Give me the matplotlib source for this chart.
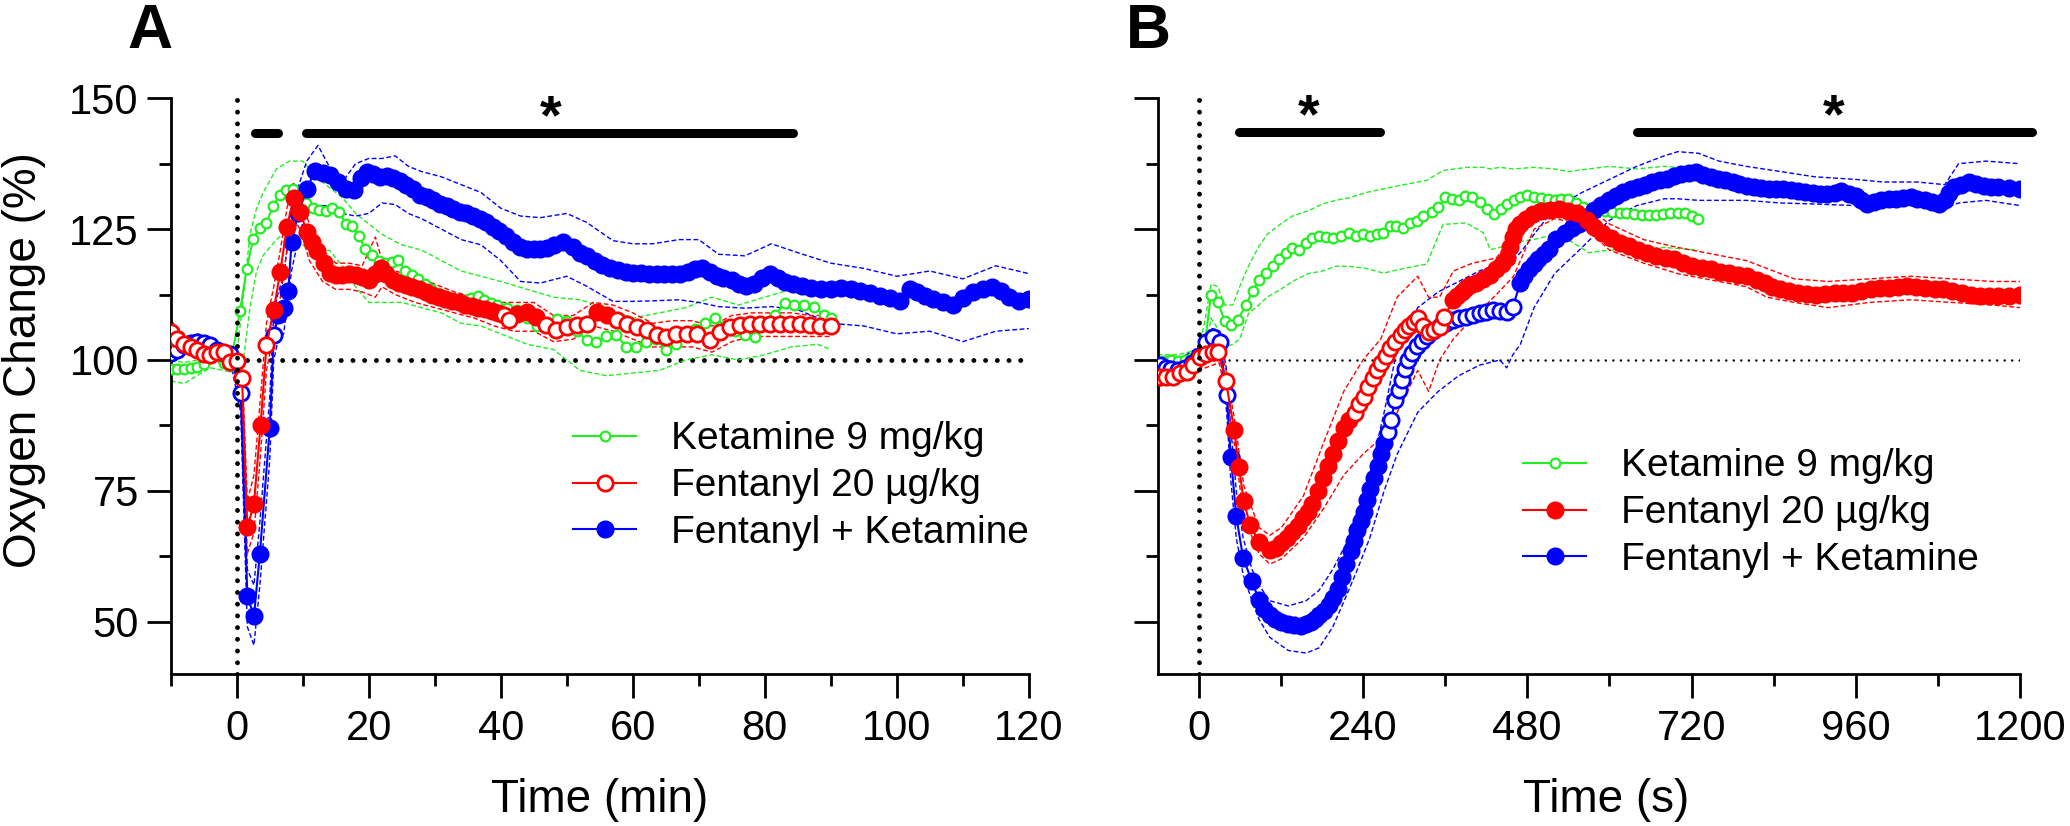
import numpy as np
import matplotlib.pyplot as plt
from matplotlib.lines import Line2D

plt.rcParams['font.family'] = ['Liberation Sans', 'DejaVu Sans']

GREEN, RED, BLUE = '#22ee22', '#ff0000', '#0000ff'
labels = ['Ketamine 9 mg/kg', 'Fentanyl 20 \u00b5g/kg', 'Fentanyl + Ketamine']

# ---------------- panel A (minutes) ----------------
green_a_t = [-10, -9, -8, -7, -6, -5, -4, -3, -2, -1, 0.5, 1.5, 2.5, 3.5, 4.5, 5.5, 6.5, 7.5, 8.5, 9.5,
             10.5, 11.5, 12.5, 13.5, 14.5, 15.5, 16.5, 17.5, 18.5, 19.5, 20.5, 21.5, 22.5, 23.5, 24.5,
             25.5, 26.5, 27.5, 28.5, 29.5, 30.5, 31.5, 32.5, 33.5, 34.5, 35.5, 36.5, 37.5, 38.5, 39.5,
             41, 42.5, 44, 45.5, 47, 48.5, 50, 51.5, 53, 54.5, 56, 57.5, 59, 60.5, 62, 63.5, 65, 66.5,
             68, 69.5, 71, 72.5, 74, 75.5, 77, 78.5, 80, 81.5, 83, 84.5, 86, 87.5, 89, 90]
green_a_v = [98.3, 98.2, 98.3, 98.5, 98.6, 99.2, 100.3, 100.8, 99.5, 98.8,
             109.4, 117.4, 123.2, 125.3, 126.2, 129.5, 131.5, 132.4, 132.6, 131.0,
             130.0, 129.0, 128.7, 128.4, 129.0, 128.3, 126.0, 125.6, 123.6, 121.2,
             120.0, 119.0, 118.5, 118.8, 119.1, 117.0, 116.2, 115.5, 114.5, 113.5,
             112.8, 112.3, 111.8, 111.5, 111.4, 111.8, 112.3, 111.5, 110.8, 110.5,
             110.0, 109.5, 108.0, 106.5, 107.0, 107.8, 107.4, 105.5, 103.8, 103.4,
             104.5, 104.8, 102.5, 102.4, 103.5, 104.0, 102.0, 103.0, 104.5, 106.0,
             107.0, 108.0, 106.5, 105.5, 104.8, 104.3, 106.5, 108.5, 110.8, 110.6,
             110.5, 110.2, 108.5, 108.0]
ga_ci_t = [-10, -8, -6, -4, -2, 0, 1, 2, 3, 4, 6, 8, 10, 12, 14, 16, 18, 20, 22, 25, 28, 31, 34, 37,
           40, 44, 48, 52, 56, 60, 64, 68, 72, 76, 80, 84, 88, 90]
ga_hi = [100, 99.5, 100, 101.5, 101, 101, 112, 124, 129, 132, 136.5, 138, 138, 135, 133, 131, 128, 126,
         124, 122, 121, 119, 117, 116, 115, 113.5, 112, 111.5, 110, 108, 109, 110, 112, 110.5, 112, 113.5,
         113, 112]
ga_lo = [96, 95.5, 97, 98.5, 98, 97.5, 100, 110, 117, 120, 123, 125, 122, 120, 121, 118, 114, 111, 111,
         111, 110, 109, 107, 106.5, 105, 103, 102, 98, 97, 97.5, 98, 100, 101, 100, 101, 102.5, 103, 102]

red_a_t = [-10, -9, -8, -7, -6, -5, -4, -3, -2, -1, 0, 0.8, 1.6, 2.6, 3.6, 4.5, 5.6, 6.6, 7.6, 8.6, 9.6,
           10.6, 11.4, 12.2, 13.2, 14.1, 15, 16, 17, 18, 19, 20, 21, 21.8, 22.6, 23.6, 24.6, 25.6, 26.6,
           27.6, 28.6, 29.6, 30.6, 31.6, 32.6, 33.6, 34.6, 35.6, 36.6, 37.6, 38.6, 39.6, 40.5, 41.2,
           42.4, 43.9, 45.4, 46.9, 48.4, 50, 51.5, 53, 54.6, 56.1, 57.6, 59.1, 60.6, 62.1, 63.6, 65.1,
           66.6, 68.2, 69.7, 71.7, 73.2, 74.7, 76.2, 77.7, 79.2, 80.8, 82.3, 83.8, 85.3, 86.8, 88.3, 90]
red_a_v = [105.3, 104.0, 103.0, 102.5, 102.0, 101.2, 101.0, 101.6, 101.5, 99.7, 99.9,
           96.6, 68.0, 72.5, 87.5, 102.8,
           109.6, 116.9, 125.5, 130.9, 128.3, 124.5,
           122.5, 120.8, 118.5, 116.6,
           116.3, 116.2, 116.5, 116.2, 115.8, 115.2, 116.5,
           117.5, 116.5,
           115.3, 114.8, 114.4, 114.0, 113.5, 113.0, 112.5, 112.0, 111.6, 111.3, 111.0, 110.6, 110.3,
           110.0, 109.7, 109.3, 109.0,
           108.5, 107.6, 108.8, 109.1, 108.2, 106.6, 105.7, 106.3, 106.6, 106.9,
           109.1, 108.5, 107.6, 106.9, 106.3, 105.7, 104.7, 104.4, 105.0, 105.0,
           105.0, 103.8, 105.4, 106.3, 106.6, 106.9, 106.9, 106.9, 106.9, 106.9,
           106.9, 106.6, 106.5, 106.4]
# 1 = filled marker, 0 = open marker
red_a_fill = [0] * 12 + [1] * 3 + [0] + [1] * 36 + [0, 0, 1, 1, 1, 0, 0, 0, 0, 0] + [1, 1] + [0] * 22
ra_ci_t = [-10, -8, -6, -4, -2, 0, 0.8, 1.6, 2.6, 3.6, 4.5, 5.6, 6.6, 7.6, 8.6, 9.6, 11, 13, 15, 17, 19,
           21, 22, 24, 27, 30, 33, 36, 39, 42, 45, 48, 51, 54, 57, 60, 63, 66, 69, 72, 75, 78, 81, 84,
           87, 90]
ra_hi = [107.5, 105, 103.5, 102.5, 103, 101.5, 99, 73, 78, 93, 107, 114, 121, 129, 134, 131, 126, 121,
         118.5, 118.5, 118, 123.5, 119, 117, 116, 114.5, 113, 112, 111, 111, 111, 108.5, 108.5, 111,
         110.5, 109, 107, 107.5, 107.5, 106.5, 108.5, 109, 109, 109, 108.5, 108.5]
ra_lo = [103, 102, 101, 99.5, 99.5, 98.5, 94, 63, 67, 82, 98, 105, 112, 121, 127, 125, 119, 115, 113.5,
         113.5, 113, 112, 114, 112.5, 111, 110, 109, 108, 106.5, 105.5, 105.5, 103.5, 104, 106.5, 105.5,
         104, 102.5, 102.5, 102.5, 101.5, 103.5, 104.5, 104.5, 104.5, 104.5, 104.5]

blue_a_t = [-10, -9, -8, -7, -6, -5, -4, -3, -2, -1, 0.6, 1.6, 2.6, 3.5, 5.0, 5.6, 6.3, 7.1, 7.8, 8.3,
            9.3, 10.6, 11.9, 13, 14.1, 15.3, 16.6, 17.7, 18.8, 19.7, 20.7, 21.7, 22.7, 23.7, 24.7, 25.7,
            26.7, 27.8, 28.8, 29.8, 30.8, 31.8, 32.8, 33.8, 34.8, 35.8, 36.8, 37.8, 38.8, 39.8, 40.8,
            41.8, 42.9, 44, 45, 46, 47, 48, 49.5, 51, 52, 53, 54.2, 55.4, 56.6, 57.8, 59, 60.1, 61.3,
            62.4, 63.6, 64.8, 66, 67.2, 68.4, 69.5, 70.5, 71.7, 72.7, 73.7, 75, 76.1, 77.2, 78.4, 79.6,
            80.8, 82, 83.1, 84.3, 85.6, 87, 88.5, 90, 91.5, 93, 94.5, 96, 97.5, 99, 100.5, 102, 103,
            104.2, 105.5, 107, 108.5, 110, 111.5, 113, 114.5, 115.8, 117, 118.5, 120]
blue_a_v = [101.3, 102.0, 102.8, 103.3, 103.5, 103.3, 102.8, 101.9, 101.3, 101.2,
            93.6, 55.0, 51.0, 63.0, 87.0, 104.7, 108.5, 110.0, 113.2, 122.5,
            128.0, 132.7, 136.2, 135.8, 135.3, 134.0, 132.7, 132.5, 134.8, 135.9,
            135.5, 135.0, 135.2, 134.8, 134.2, 133.4, 132.7, 131.5, 131.2, 130.5,
            129.8, 129.5, 128.8, 128.3, 128.0, 127.5, 126.9, 126.3, 125.5, 124.6,
            123.6, 122.6, 121.5, 121.3, 121.2, 121.2, 121.4, 121.9, 122.5, 121.5,
            120.5, 119.9, 119.0, 118.2, 117.6, 117.2, 116.9, 116.7, 116.6, 116.5,
            116.4, 116.4, 116.4, 116.4, 116.8, 117.3, 117.5, 116.8, 116.1, 115.7,
            115.2, 114.6, 114.1, 114.6, 115.6, 116.5, 115.6, 114.9, 114.5, 114.2,
            113.8, 113.5, 113.6, 113.8, 113.5, 113.2, 112.8, 112.3, 111.8, 111.3,
            113.5, 113.0, 112.2, 111.6, 111.0, 110.6, 111.8, 113.0, 113.6, 114.0,
            113.2, 112.0, 111.3, 111.7]
blue_a_fill = [0] * 11 + [1] * 4 + [0] + [1] * 98
ba_ci_t = [-10, -8, -6, -4, -2, -1, 0.6, 1.6, 2.6, 3.5, 5, 5.6, 6.3, 7.1, 8.3, 9.3, 10.6, 12.3, 14, 16,
           18, 20, 22, 24, 26, 28, 31, 34, 37, 40, 43, 46, 50, 53, 57, 60, 63, 67, 70, 73, 77, 81, 85,
           90, 95, 100, 105, 110, 115, 120]
ba_hi = [102.5, 104, 105, 104, 102.5, 102.5, 97, 60, 57, 69, 93, 109, 113, 116, 128, 133, 138, 141, 137,
         134, 137.5, 138.5, 138.5, 139, 137, 136, 135, 133.5, 132, 129, 127.5, 127.2, 128, 126.3, 122.8,
         122.2, 122.2, 123, 123, 120.2, 119.9, 122.2, 120.5, 118.5, 117.5, 116, 117, 115.5, 118, 116.5]
ba_lo = [100, 101.5, 102, 101, 100, 100, 90, 49, 45.5, 57, 81, 100, 104, 105, 117, 123, 129, 129.5,
         129.5, 128, 127.5, 128, 130, 129.7, 128, 127, 125, 123, 122, 119, 115, 114.7, 116, 114.1, 111.2,
         111.2, 111.3, 111.5, 111, 110.2, 109.9, 110.2, 109.6, 107, 106.5, 105, 105.5, 103.5, 105.5, 106]

# ---------------- panel B (seconds) ----------------
green_b_t = [-60, -50, -40, -30, -20, -10, 0, 10, 18, 28, 38, 47, 57, 69, 79, 88, 98, 108, 118, 128, 137,
             147, 157, 166, 176, 186, 196, 208, 220, 230, 240, 250, 260, 270, 279, 289, 299, 309, 319,
             328, 341, 350, 360, 370, 380, 389, 399, 411, 421, 431, 441, 450, 460, 470, 480, 490, 500,
             510, 520, 530, 540, 551, 562, 573, 583, 594, 604, 615, 625, 636, 647, 658, 668, 679, 689,
             700, 711, 720, 729]
green_b_v = [99.5, 99.8, 100.0, 99.8, 100.0, 100.3, 101.0,
             104.0, 112.4, 111.1, 107.5, 106.7, 107.6, 110.5, 113.2, 115.3, 116.6,
             117.9, 119.2, 120.5, 121.4, 121.1, 122.4, 123.4, 123.7, 123.5, 123.4,
             123.7, 124.3, 123.7, 124.0, 123.7, 124.0, 124.3, 125.6, 125.6, 125.3,
             126.2, 126.6, 127.5, 128.2, 129.2, 131.1, 130.8, 130.5, 131.4, 131.1,
             130.1, 128.8, 127.9, 128.8, 129.8, 130.5, 131.1, 131.5, 131.2, 131.0,
             130.8, 130.6, 130.7, 130.8, 130.0, 129.2, 128.9, 128.6, 128.5, 128.3,
             128.1, 128.0, 127.8, 127.7, 127.7, 127.7, 127.9, 128.0, 128.0, 128.0,
             127.5, 127.0]
gb_ci_t = [-60, -30, 0, 10, 18, 28, 38, 50, 60, 73, 88, 100, 120, 137, 160, 181, 200, 220, 245, 270, 300,
           333, 357, 391, 416, 426, 440, 460, 489, 520, 540, 570, 600, 640, 680, 730]
gb_hi = [101, 101, 102, 108, 114.5, 114, 110.5, 110.5, 114, 118, 121.7, 124, 126, 127.5, 128.5, 129.8,
         130.5, 131, 132, 132.7, 133.5, 134.3, 136.2, 136.8, 136.8, 136.5, 136.8, 136.5, 136.8, 136.5,
         136, 136.5, 137, 136.5, 137, 136.5]
gb_lo = [98.5, 98.5, 99.5, 101, 108, 106, 102.5, 103, 104, 108.9, 110.5, 112, 113.5, 115, 116.5, 117,
         117.9, 117.9, 117.5, 116.6, 117.5, 118.3, 125.9, 126.2, 124.3, 121.1, 121.5, 122.5, 123, 124,
         123, 120.5, 121, 121, 121.5, 121]

red_b_t = [-57, -47, -37, -27, -17, -8, 2, 11, 21, 29, 40, 52, 59, 66, 75, 88, 104, 113, 121, 129, 137,
           145, 153, 160, 166, 174, 182, 189, 196, 204, 212, 220, 228, 235, 242, 248, 254, 260, 266, 273,
           280, 287, 295, 301, 307, 314, 320, 328, 336, 344, 352, 359, 372, 378, 385, 391, 396, 405, 415,
           425, 435, 443, 450, 455, 459, 464, 469, 478, 488, 500, 513, 526, 540, 553, 567, 578, 589, 602,
           615, 628, 642, 655, 668, 682, 695, 708, 721, 735, 748, 761, 775, 788, 801, 815, 828, 838, 849,
           862, 876, 889, 902, 915, 929, 942, 955, 968, 982, 995, 1008, 1021, 1035, 1048, 1061, 1075,
           1088, 1101, 1115, 1128, 1141, 1155, 1168, 1184, 1200]
red_b_v = [96.8, 96.7, 96.8, 97.5, 97.8, 99.0, 100.6, 101.2, 101.5, 101.5, 95.9,
           86.6, 79.5, 73.0, 68.5, 65.3, 63.7, 64.0, 65.0, 66.0,
           67.2, 68.3, 69.8, 71.0, 72.5, 75.0, 77.5, 79.8, 82.0, 84.5,
           87.0, 88.5, 89.8, 91.5, 93.0, 94.8, 96.5, 98.0, 99.5, 100.8,
           102.3, 103.5, 104.8, 105.8, 106.5, 107.3, 108.0, 106.5, 105.4, 105.8,
           106.3, 108.3, 111.5, 112.3, 113.0, 113.8, 114.3, 114.8, 115.5, 116.3,
           117.3, 118.3, 119.5, 121.5, 123.5, 125.0, 126.0, 127.0, 127.8, 128.5,
           128.7, 128.8, 128.5, 128.0, 126.8, 125.5, 124.3, 123.3, 122.4, 121.7,
           121.1, 120.4, 119.8, 119.5, 119.2, 118.5, 117.9, 117.6, 117.3, 116.9,
           116.6, 116.3, 116.0, 115.3, 114.7, 114.0, 113.5, 113.1, 112.8, 112.6,
           112.5, 112.6, 112.8, 112.8, 112.8, 113.2, 113.5, 113.7, 113.8, 114.0,
           114.1, 114.0, 113.8, 113.6, 113.5, 113.1, 112.8, 112.5, 112.2, 112.2,
           112.2, 112.3, 112.5]
red_b_fill = [0] * 11 + [1] * 21 + [0] * 20 + [1] * 71
rb_ci_t = [-60, -30, 0, 30, 40, 52, 66, 88, 104, 121, 153, 182, 212, 240, 266, 290, 320, 336, 352, 372,
           400, 435, 460, 490, 520, 560, 600, 650, 700, 760, 800, 830, 870, 920, 980, 1040, 1100, 1160, 1200]
rb_hi = [98.5, 99, 102, 103.5, 98, 89, 76, 68, 66.5, 68, 74, 84, 94, 100, 104, 112, 116, 112, 112, 117,
         118.5, 119.5, 124, 129.5, 130.5, 130, 126, 123, 121.5, 120, 119, 117.5, 115.5, 115, 115.5, 116,
         115.5, 115, 115]
rb_lo = [95, 95.5, 98, 99.5, 93.5, 84, 70, 63, 61, 62, 66, 71.5, 78, 82, 85, 90, 98, 94, 100, 104, 108,
         112.5, 116, 125, 127, 126, 121, 118.5, 116.5, 115, 114, 112, 111, 110, 111, 111.5, 111, 110.5, 110]

blue_b_t = [-57, -48, -40, -30, -20, -10, 0, 11, 21, 31, 41, 47, 55, 65, 78, 88, 96, 104, 112, 120, 131,
            140, 150, 157, 164, 170, 176, 183, 190, 196, 203, 210, 216, 222, 227, 232, 237, 241, 246,
            250, 256, 262, 266, 271, 276, 281, 287, 292, 297, 301, 306, 312, 319, 326, 333, 342, 352,
            361, 371, 381, 391, 401, 411, 420, 430, 440, 450, 459, 470, 476, 483, 490, 496, 504, 512,
            522, 535, 546, 556, 567, 578, 588, 599, 610, 620, 631, 642, 652, 663, 674, 684, 695, 705,
            716, 726, 737, 748, 758, 769, 780, 790, 801, 812, 822, 833, 844, 854, 865, 875, 886, 897,
            908, 918, 929, 939, 950, 960, 968, 976, 986, 997, 1008, 1018, 1029, 1040, 1050, 1061, 1072,
            1082, 1090, 1096, 1103, 1114, 1125, 1136, 1147, 1158, 1168, 1184, 1200]
blue_b_v = [99.0, 98.4, 98.2, 98.1, 98.5, 99.5, 100.8, 103.5, 104.4, 103.5, 93.3,
            81.5, 70.1, 62.2, 57.7, 54.2, 52.5, 51.3, 50.5, 50.0,
            49.5, 49.3, 49.2, 49.5, 49.9, 50.5, 51.2, 52.0, 53.2, 54.5,
            56.3, 58.5, 61.0, 63.5, 65.5, 67.5, 69.3, 71.0, 73.2, 75.3,
            77.5, 79.7, 82.0, 84.2, 86.3, 88.5, 92.4, 94.3, 96.2, 98.2,
            100.0, 101.3, 102.6, 103.6, 104.5, 105.5, 106.4, 107.0, 107.7, 108.0,
            108.3, 108.6, 108.9, 109.2, 109.6, 109.4, 109.2, 110.2, 114.7, 116.0,
            117.3, 118.4, 119.2, 120.3, 121.3, 123.2, 124.3, 125.2, 126.0, 127.3,
            128.6, 129.6, 130.5, 131.3, 132.1, 132.6, 133.0, 133.5, 134.0, 134.3,
            134.6, 135.1, 135.6, 135.8, 135.9, 135.4, 134.9, 134.6, 134.3, 134.0,
            133.6, 133.3, 133.0, 132.8, 132.7, 132.7, 132.7, 132.5, 132.3, 132.1,
            132.0, 131.8, 131.7, 132.0, 132.3, 131.8, 131.4, 130.6, 129.8, 130.1,
            130.5, 130.7, 130.8, 131.0, 131.1, 130.8, 130.5, 130.1, 129.8, 130.5,
            132.0, 133.0, 133.5, 134.0, 133.6, 133.3, 133.1, 133.0, 132.8, 132.7]
blue_b_fill = [0] * 11 + [1] * 33 + [0] * 24 + [1] * 72
bb_ci_t = [-60, -30, 0, 20, 31, 41, 47, 55, 65, 78, 88, 104, 131, 157, 176, 196, 216, 232, 250, 271, 290,
           320, 350, 380, 410, 440, 450, 459, 470, 490, 520, 560, 600, 640, 680, 700, 730, 760, 800, 850,
           900, 960, 1000, 1050, 1090, 1110, 1150, 1200]
bb_hi = [100.5, 100, 102.5, 106, 105.5, 98, 87, 75, 66, 60, 57, 54, 53, 54, 56, 60, 65, 70, 78, 90, 102,
         110, 113, 115, 117, 118.5, 118.5, 119, 120.5, 124, 129, 132, 134.5, 137, 139, 139.8, 139.5, 138,
         137, 136, 135, 134.5, 134, 134, 133.5, 137.5, 138, 137.5]
bb_lo = [97, 96.5, 99, 102.5, 101.5, 90, 77, 66, 59, 54, 50.5, 47, 44.5, 44, 45, 49, 55, 60, 66, 75, 82,
         90, 94, 97, 99, 100, 98.5, 101, 103, 110, 116.5, 121.5, 126.7, 129.5, 130.8, 130.8, 130.5,
         130.5, 130.5, 130, 129.8, 129.5, 130, 129.5, 129, 130, 130.5, 129.5]

MS_BIG, MS_SMALL = 11, 7


def series(ax, t, v, fill, color, ms, mew, z):
    t = np.asarray(t, float)
    v = np.asarray(v, float)
    f = np.asarray(fill, bool)
    ax.plot(t, v, '-', color=color, lw=1.5, zorder=z)
    ax.plot(t[f], v[f], 'o', ls='none', ms=ms, mfc=color, mec=color, mew=mew, zorder=z)
    ax.plot(t[~f], v[~f], 'o', ls='none', ms=ms, mfc='white', mec=color, mew=mew, zorder=z)


def band(ax, t, lo, hi, color, z):
    for y in (lo, hi):
        ax.plot(t, y, color=color, lw=1.0, ls=(0, (3.5, 1.8)), zorder=z)


def style(ax, xlim, xmajor, xminor):
    ax.set_xlim(*xlim)
    ax.set_ylim(40, 150)
    for s in ('top', 'right'):
        ax.spines[s].set_visible(False)
    for s in ('left', 'bottom'):
        ax.spines[s].set_linewidth(2)
    ax.set_xticks(xmajor)
    ax.set_xticks(xminor, minor=True)
    ax.set_yticks([50, 75, 100, 125, 150])
    ax.set_yticks([62.5, 87.5, 112.5, 137.5], minor=True)
    ax.tick_params(which='major', length=17, width=2, labelsize=30)
    ax.tick_params(which='minor', length=8.5, width=2)
    ax.tick_params(axis='x', pad=8)
    ax.tick_params(axis='y', pad=6)


def legend(ax, handles, anchor):
    ax.legend(handles, labels, loc='upper left', bbox_to_anchor=anchor, frameon=False,
              fontsize=28, handlelength=1.62, handletextpad=0.9, labelspacing=0.28,
              borderpad=0, borderaxespad=0)


dotted = dict(color='k', lw=3.5, ls=(0, (0.01, 2.4)), dash_capstyle='round')
bar = dict(color='k', lw=6.5, solid_capstyle='round', clip_on=False)
star = dict(fontsize=40, fontweight='bold', ha='center', va='baseline')

fig = plt.figure(figsize=(20.7, 8.26), dpi=100)
ax_a = fig.add_axes([0.0825, 0.184, 0.4145, 0.697])
ax_b = fig.add_axes([0.5592, 0.184, 0.4167, 0.697])

# panel A
style(ax_a, (-10, 120), range(0, 121, 20), range(-10, 111, 20))
ax_a.plot([1.5, 120], [100, 100], zorder=1, **dotted)
ax_a.plot([0, 0], [40, 150], zorder=6, **dotted)
band(ax_a, ga_ci_t, ga_lo, ga_hi, GREEN, 2)
band(ax_a, ba_ci_t, ba_lo, ba_hi, BLUE, 2)
band(ax_a, ra_ci_t, ra_lo, ra_hi, RED, 2)
series(ax_a, green_a_t, green_a_v, [0] * len(green_a_t), GREEN, MS_SMALL, 1.6, 3)
series(ax_a, blue_a_t, blue_a_v, blue_a_fill, BLUE, MS_BIG, 2, 4)
series(ax_a, red_a_t, red_a_v, red_a_fill, RED, MS_BIG, 2, 5)
ax_a.plot([2.7, 6.3], [143.3, 143.3], **bar)
ax_a.plot([10.5, 84.3], [143.3, 143.3], **bar)
ax_a.text(47.5, 143.3, '*', **star)
ax_a.set_xlabel('Time (min)', fontsize=33)
ax_a.xaxis.set_label_coords(0.5, -0.18)
ax_a.set_ylabel('Oxygen Change (%)', fontsize=33)
ax_a.yaxis.set_label_coords(-0.145, 0.545)
legend(ax_a, [
    Line2D([], [], color=GREEN, lw=1.5, marker='o', ms=MS_SMALL, mfc='white', mec=GREEN, mew=1.6),
    Line2D([], [], color=RED, lw=1.5, marker='o', ms=MS_BIG, mfc='white', mec=RED, mew=2),
    Line2D([], [], color=BLUE, lw=1.5, marker='o', ms=MS_BIG, mfc=BLUE, mec=BLUE, mew=2),
], (0.469, 0.439))

# panel B
style(ax_b, (-60, 1200), range(0, 1201, 240), range(120, 1081, 240))
ax_b.tick_params(axis='y', labelleft=False)
ax_b.plot([0, 1200], [100, 100], color='k', lw=1.8, ls=(0, (0.01, 3)), dash_capstyle='round', zorder=1)
ax_b.plot([0, 0], [40, 150], zorder=6, **dotted)
band(ax_b, gb_ci_t, gb_lo, gb_hi, GREEN, 2)
band(ax_b, bb_ci_t, bb_lo, bb_hi, BLUE, 2)
band(ax_b, rb_ci_t, rb_lo, rb_hi, RED, 2)
series(ax_b, green_b_t, green_b_v, [0] * len(green_b_t), GREEN, MS_SMALL, 1.6, 3)
series(ax_b, blue_b_t, blue_b_v, blue_b_fill, BLUE, MS_BIG, 2, 4)
series(ax_b, red_b_t, red_b_v, red_b_fill, RED, MS_BIG, 2, 5)
ax_b.plot([58.6, 265], [143.5, 143.5], **bar)
ax_b.plot([641, 1218], [143.5, 143.5], **bar)
ax_b.text(160, 143.5, '*', **star)
ax_b.text(928, 143.5, '*', **star)
ax_b.set_xlabel('Time (s)', fontsize=33)
ax_b.xaxis.set_label_coords(0.52, -0.18)
legend(ax_b, [
    Line2D([], [], color=GREEN, lw=1.5, marker='o', ms=MS_SMALL, mfc='white', mec=GREEN, mew=1.6),
    Line2D([], [], color=RED, lw=1.5, marker='o', ms=MS_BIG, mfc=RED, mec=RED, mew=2),
    Line2D([], [], color=BLUE, lw=1.5, marker='o', ms=MS_BIG, mfc=BLUE, mec=BLUE, mew=2),
], (0.424, 0.392))

fig.text(150 / 2070, 1 - 48 / 826, 'A', fontsize=45, fontweight='bold', ha='center', va='baseline')
fig.text(1148 / 2070, 1 - 48 / 826, 'B', fontsize=45, fontweight='bold', ha='center', va='baseline')

fig.savefig('out.png', dpi=100)
